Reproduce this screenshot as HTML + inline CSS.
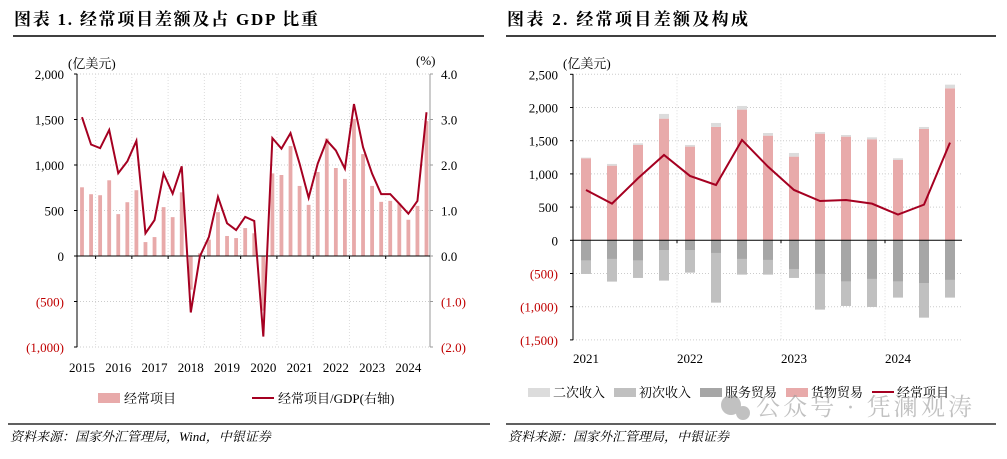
<!DOCTYPE html>
<html><head><meta charset="utf-8">
<style>
body{margin:0;background:#fff;width:1007px;height:454px;overflow:hidden;font-family:"Liberation Serif","Noto Serif CJK SC",serif;}
svg text{font-family:"Liberation Serif","Noto Serif CJK SC",serif;}
</style></head><body>
<svg id="s" width="1007" height="454" xmlns="http://www.w3.org/2000/svg">
<text x="14" y="25" font-size="17" font-weight="bold" textLength="304" lengthAdjust="spacing">图表 1. 经常项目差额及占 GDP 比重</text>
<line x1="13" y1="36" x2="484" y2="36" stroke="#000" stroke-width="1.5"/>
<text x="507" y="25" font-size="17" font-weight="bold" textLength="241" lengthAdjust="spacing">图表 2. 经常项目差额及构成</text>
<line x1="506" y1="36" x2="996" y2="36" stroke="#000" stroke-width="1.5"/>
<g id="L"></g>
<g id="R"></g>
<line x1="8" y1="424" x2="490" y2="424" stroke="#000" stroke-width="1.2"/>
<line x1="506" y1="424" x2="996" y2="424" stroke="#000" stroke-width="1.2"/>
<text x="10" y="441" font-size="13" font-style="italic">资料来源：国家外汇管理局，Wind，中银证券</text>
<text x="508" y="441" font-size="13" font-style="italic">资料来源：国家外汇管理局，中银证券</text>
<g opacity="0.6">
<circle cx="731" cy="405" r="10" fill="#999"/><circle cx="743" cy="413" r="7" fill="#999"/>
<text x="756" y="415" font-size="24" fill="#999" textLength="216" lengthAdjust="spacing" font-family="Noto Sans CJK SC, sans-serif">公众号 · 凭澜观涛</text>
</g>
</svg>
<script>
// ---------- Left chart data ----------
const leftYears = ["2015","2016","2017","2018","2019","2020","2021","2022","2023","2024"];
const leftCA = [755,679,668,832,460,591,723,153,208,537,427,700,-370,30,180,482,220,197,307,250,-600,908,890,1208,770,562,923,1292,967,847,1507,1120,770,595,606,577,398,551,1482];
const leftPct = [3.05,2.45,2.37,2.77,1.82,2.08,2.53,0.50,0.79,1.81,1.37,1.97,-1.24,-0.01,0.42,1.30,0.72,0.57,0.86,0.77,-1.77,2.59,2.36,2.70,2.03,1.28,2.03,2.54,2.32,1.92,3.34,2.39,1.81,1.36,1.36,1.15,0.93,1.21,3.16];
const leftTicks = [2000,1500,1000,500,0,-500,-1000];
const leftTickLabels = ["2,000","1,500","1,000","500","0","(500)","(1,000)"];
const leftRTickLabels = ["4.0","3.0","2.0","1.0","0.0","(1.0)","(2.0)"];
// ---------- Right chart data ----------
const rightYears = ["2021","2022","2023","2024"];
const goods = [1235,1124,1436,1832,1411,1707,1968,1576,1260,1606,1561,1521,1210,1677,2289];
const secondary = [10,26,25,71,25,60,55,40,55,25,25,30,25,30,55];
const services = [-306,-281,-306,-146,-146,-191,-281,-296,-432,-507,-622,-582,-622,-643,-597];
const primary = [-201,-341,-261,-461,-341,-748,-236,-221,-135,-537,-367,-422,-241,-522,-266];
const currentAcct = [758,552,934,1285,969,833,1511,1109,758,592,607,552,387,537,1471];
const rightTicks = [2500,2000,1500,1000,500,0,-500,-1000,-1500];
const rightTickLabels = ["2,500","2,000","1,500","1,000","500","0","(500)","(1,000)","(1,500)"];

const NS="http://www.w3.org/2000/svg";
function mk(parent,tag,attrs){const e=document.createElementNS(NS,tag);for(const k in attrs)e.setAttribute(k,attrs[k]);parent.appendChild(e);return e;}
const RED="#c00000", LINE="#a50021", PINK="#e8aaaa";

// ---- Left chart ----
(function(){
const L=document.getElementById('L');
const x0=77,x1=430,yTop=74,yZero=256;
const yL=v=>yZero-(v)*(yZero-yTop)/2000;
const yR=v=>yZero-(v)*(yZero-yTop)/4;
const xi=i=>82+i*(426.5-82)/(leftCA.length-1);
leftTicks.forEach((t,k)=>{
  const y=yL(t);
  if(t!==0){const g=mk(L,'line',{x1:x0,y1:y,x2:x1,y2:y,stroke:"#ccc","stroke-dasharray":"1,2"});
  
  }
  const tx=mk(L,'text',{x:64,y:y+5,"font-size":13,"text-anchor":"end",fill:t<0?RED:"#000"});tx.textContent=leftTickLabels[k];
  
  
  const tr=mk(L,'text',{x:441,y:y+5,"font-size":13,fill:t<0?RED:"#000"});tr.textContent=leftRTickLabels[k];
  
  
  mk(L,'line',{x1:x0-3,y1:y,x2:x0,y2:y,stroke:"#000"});
  mk(L,'line',{x1:x1,y1:y,x2:x1+3,y2:y,stroke:"#999"});
});
leftYears.forEach((yr,k)=>{
  const xt=xi(k*4)+ (xi(4)-xi(0))/2 - (xi(1)-xi(0))/2;
  if(k<leftYears.length-1){const g=mk(L,'line',{x1:xt,y1:yTop,x2:xt,y2:yL(-1000),stroke:"#ddd","stroke-dasharray":"1,2"});
  
  
  mk(L,'line',{x1:xt,y1:yZero,x2:xt,y2:yZero+3,stroke:"#000"});}
  const tx=mk(L,'text',{x:xi(k*4),y:372,"font-size":13,"text-anchor":"middle"});tx.textContent=yr;
  
  
});
leftCA.forEach((v,i)=>{
  const b=mk(L,'rect',{x:xi(i)-1.9,y:Math.min(yL(v),yZero),width:3.8,height:Math.abs(yL(v)-yZero),fill:PINK});
  
  
});
mk(L,'line',{x1:x0,y1:yTop,x2:x0,y2:yL(-1000),stroke:"#000"});
mk(L,'line',{x1:x1,y1:yTop,x2:x1,y2:yL(-1000),stroke:"#999"});
mk(L,'line',{x1:x0,y1:yZero,x2:x1,y2:yZero,stroke:"#000"});
const p=mk(L,'polyline',{points:leftPct.map((v,i)=>xi(i)+","+yR(v)).join(" "),fill:"none",stroke:LINE,"stroke-width":2});


const u1=mk(L,'text',{x:68,y:68,"font-size":13});u1.textContent="(亿美元)";


const u2=mk(L,'text',{x:416,y:65,"font-size":13});u2.textContent="(%)";


const l1=mk(L,'rect',{x:98,y:393,width:22,height:10,fill:PINK});


const lt1=mk(L,'text',{x:124,y:403,"font-size":13});lt1.textContent="经常项目";


const l2=mk(L,'line',{x1:252,y1:398,x2:274,y2:398,stroke:LINE,"stroke-width":2});


const lt2=mk(L,'text',{x:278,y:403,"font-size":13});lt2.textContent="经常项目/GDP(右轴)";


})();

// ---- Right chart ----
(function(){
const R=document.getElementById('R');
const x0=573,x1=962,yTop=74.3,yZero=240.3;
const y=v=>yZero-v*(yZero-yTop)/2500;
const xi=i=>586+i*26;
const bw=10;
rightTicks.forEach((t,k)=>{
  const yy=y(t);
  if(t!==0){const g=mk(R,'line',{x1:x0,y1:yy,x2:x1,y2:yy,stroke:"#ccc","stroke-dasharray":"1,2"});
  
  }
  mk(R,'line',{x1:x0-3,y1:yy,x2:x0,y2:yy,stroke:"#000"});
  const tx=mk(R,'text',{x:558,y:yy+5,"font-size":13,"text-anchor":"end",fill:t<0?RED:"#000"});tx.textContent=rightTickLabels[k];
  
  
});
rightYears.forEach((yr,k)=>{
  if(k>0){const xt=xi(k*4)-13;
  const g=mk(R,'line',{x1:xt,y1:yTop,x2:xt,y2:y(-1500),stroke:"#ddd","stroke-dasharray":"1,2"});
  
  
  mk(R,'line',{x1:xt,y1:yZero,x2:xt,y2:yZero+3,stroke:"#000"});}
  const tx=mk(R,'text',{x:xi(k*4),y:363,"font-size":13,"text-anchor":"middle"});tx.textContent=yr;
  
  
});
goods.forEach((g,i)=>{
  const x=xi(i)-bw/2;
  const r1=mk(R,'rect',{x:x,y:y(g),width:bw,height:y(0)-y(g),fill:PINK});
  
  
  const r2=mk(R,'rect',{x:x,y:y(g+secondary[i]),width:bw,height:y(g)-y(g+secondary[i]),fill:"#dcdcdc"});
  
  
  const r3=mk(R,'rect',{x:x,y:y(0),width:bw,height:y(services[i])-y(0),fill:"#a6a6a6"});
  
  
  const r4=mk(R,'rect',{x:x,y:y(services[i]),width:bw,height:y(services[i]+primary[i])-y(services[i]),fill:"#c0c0c0"});
  
  
});
mk(R,'line',{x1:x0,y1:yTop,x2:x0,y2:y(-1500),stroke:"#000"});
mk(R,'line',{x1:x0,y1:yZero,x2:x1,y2:yZero,stroke:"#000"});
const p=mk(R,'polyline',{points:currentAcct.map((v,i)=>xi(i)+","+y(v)).join(" "),fill:"none",stroke:LINE,"stroke-width":2});


const u=mk(R,'text',{x:563,y:68,"font-size":13});u.textContent="(亿美元)";


const items=[["二次收入","#dcdcdc",528],["初次收入","#c0c0c0",614],["服务贸易","#a6a6a6",700],["货物贸易",PINK,786]];
items.forEach(it=>{
  const s=mk(R,'rect',{x:it[2],y:388,width:22,height:9,fill:it[1]});
  
  
  const t=mk(R,'text',{x:it[2]+25,y:397,"font-size":13});t.textContent=it[0];
  
  
});
const ls=mk(R,'line',{x1:872,y1:392,x2:894,y2:392,stroke:LINE,"stroke-width":2});


const lt=mk(R,'text',{x:897,y:397,"font-size":13});lt.textContent="经常项目";


})();
</script>
</body></html>
